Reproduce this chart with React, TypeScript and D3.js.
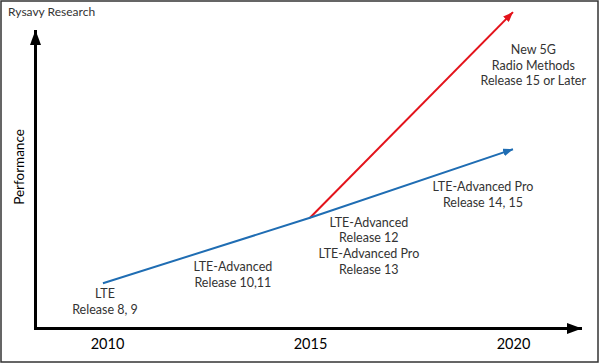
import React, { useEffect, useRef } from "react";
import * as d3 from "d3";

// years on the x axis
const years = [2010, 2015, 2020];
// LTE evolution path (relative performance)
const lteYears = [2009.9, 2015, 2020];
const lteValues = [15, 37, 60];
// 5G branch
const nrYears = [2015, 2020];
const nrValues = [37, 106];

const labels = [
  { year: 2009.95, value: 10, lines: ["LTE", "Release 8, 9"] },
  { year: 2013.1, value: 19, lines: ["LTE-Advanced", "Release 10,11"] },
  { year: 2016.45, value: 34, lines: ["LTE-Advanced", "Release 12", "LTE-Advanced Pro", "Release 13"] },
  { year: 2019.26, value: 46, lines: ["LTE-Advanced Pro", "Release 14, 15"] },
  { year: 2020.5, value: 92, lines: ["New 5G", "Radio Methods", "Release 15 or Later"] },
];

const App = () => {
  const ref = useRef<SVGSVGElement>(null);

  useEffect(() => {
    const svg = d3.select(ref.current);
    svg.selectAll("*").remove();

    const width = 600;
    const height = 364;
    const font = "Lato, 'Open Sans', sans-serif";

    const x = d3.scaleLinear().domain([2010, 2020]).range([107, 513]);
    const y = d3.scaleLinear().domain([0, 100]).range([328, 30]);

    // arrow markers
    const defs = svg.append("defs");
    const marker = (id, color, w, h) => {
      defs
        .append("marker")
        .attr("id", id)
        .attr("viewBox", `0 0 ${w} ${h}`)
        .attr("refX", w)
        .attr("refY", h / 2)
        .attr("markerWidth", w)
        .attr("markerHeight", h)
        .attr("markerUnits", "userSpaceOnUse")
        .attr("orient", "auto")
        .append("path")
        .attr("d", `M0,0L${w},${h / 2}L0,${h}Z`)
        .attr("fill", color);
    };
    marker("axisArrow", "#000", 15, 11);
    marker("blueArrow", "#1f6db3", 10, 8);
    marker("redArrow", "#e3131b", 10, 8);

    // frame
    svg
      .append("rect")
      .attr("x", 1)
      .attr("y", 1)
      .attr("width", width - 3)
      .attr("height", height - 3)
      .attr("fill", "#fff")
      .attr("stroke", "#333")
      .attr("stroke-width", 1.5);

    svg
      .append("text")
      .attr("x", 8)
      .attr("y", 16)
      .attr("font-family", font)
      .attr("font-size", 12)
      .attr("fill", "#333")
      .text("Rysavy Research");

    // axes
    svg
      .append("line")
      .attr("x1", 35.5)
      .attr("y1", 329.5)
      .attr("x2", 35.5)
      .attr("y2", 30)
      .attr("stroke", "#000")
      .attr("stroke-width", 3)
      .attr("marker-end", "url(#axisArrow)");

    svg
      .append("line")
      .attr("x1", 34)
      .attr("y1", 328.5)
      .attr("x2", 582)
      .attr("y2", 328.5)
      .attr("stroke", "#000")
      .attr("stroke-width", 3)
      .attr("marker-end", "url(#axisArrow)");

    const xAxis = svg
      .append("g")
      .attr("transform", `translate(0,${336})`)
      .call(d3.axisBottom(x).tickValues(years).tickFormat(d3.format("d")).tickSize(0));
    xAxis.select(".domain").remove();
    xAxis
      .selectAll("text")
      .attr("font-family", font)
      .attr("font-size", 14.5)
      .attr("fill", "#000");

    svg
      .append("text")
      .attr("transform", "translate(23.5,167) rotate(-90)")
      .attr("text-anchor", "middle")
      .attr("font-family", font)
      .attr("font-size", 13.5)
      .attr("fill", "#000")
      .text("Performance");

    // lines
    const line = d3
      .line<[number, number]>()
      .x((d) => x(d[0]))
      .y((d) => y(d[1]));

    svg
      .append("path")
      .datum(nrYears.map((yr, i) => [yr, nrValues[i]] as [number, number]))
      .attr("fill", "none")
      .attr("stroke", "#e3131b")
      .attr("stroke-width", 2)
      .attr("marker-end", "url(#redArrow)")
      .attr("d", line);

    svg
      .append("path")
      .datum(lteYears.map((yr, i) => [yr, lteValues[i]] as [number, number]))
      .attr("fill", "none")
      .attr("stroke", "#1f6db3")
      .attr("stroke-width", 2)
      .attr("marker-end", "url(#blueArrow)")
      .attr("d", line);

    // annotations
    labels.forEach((l) => {
      const t = svg
        .append("text")
        .attr("text-anchor", "middle")
        .attr("font-family", font)
        .attr("font-size", 12.5)
        .attr("fill", "#333");
      l.lines.forEach((s, i) => {
        t.append("tspan")
          .attr("x", x(l.year))
          .attr("y", y(l.value) + i * 15.8)
          .text(s);
      });
    });
  }, []);

  return <svg ref={ref} width={600} height={364} style={{ display: "block", position: "absolute", left: 0, top: 0 }}></svg>;
};

export default App;
